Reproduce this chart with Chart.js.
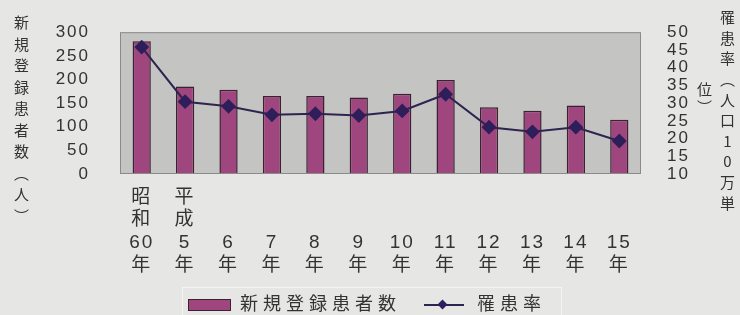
<!DOCTYPE html>
<html>
<head>
<meta charset="utf-8">
<script src="https://cdn.jsdelivr.net/npm/chart.js@4"></script>
<style>
  html, body { margin: 0; padding: 0; background: #e6e6e4; }
  #wrap { position: relative; width: 740px; height: 315px; overflow: hidden; }
  canvas { position: absolute; left: 0; top: 0; }
  .vtitle {
    position: absolute;
    writing-mode: vertical-rl;
    text-orientation: upright;
    font-family: "Noto Sans CJK JP", sans-serif;
    font-size: 15px;
    color: #333;
    line-height: 1;
  }
  #legend {
    position: absolute;
    left: 182px; top: 287px; width: 378px; height: 40px;
    border: 1px solid #f4f4f2;
    font-family: "Noto Sans CJK JP", sans-serif;
    font-size: 18px; color: #333; letter-spacing: 5px;
  }
  #legend .box {
    position: absolute; left: 5px; top: 11px; width: 41px; height: 10px;
    background: #a0467f; border: 1px solid #3b2233;
  }
  #legend .t1 { position: absolute; left: 57px; top: 1px; }
  #legend .ln {
    position: absolute; left: 241px; top: 16px; width: 40px; height: 2px; background: #2d2450;
  }
  #legend .dot {
    position: absolute; left: 256px; top: 13px; width: 7px; height: 7px;
    background: #2e1e5a; transform: rotate(45deg);
  }
  #legend .t2 { position: absolute; left: 294px; top: 1px; }
</style>
</head>
<body>
<div id="wrap">
  <canvas id="chart" width="740" height="315"></canvas>
  <div class="vtitle" style="left:14px; top:15px; letter-spacing:6.5px;">新規登録患者数（人）</div>
  <div class="vtitle" style="left:720px; top:10px; letter-spacing:5.6px;">罹患率（人口10万単</div>
  <div class="vtitle" style="left:697px; top:82px; letter-spacing:3px;">位）</div>
  <div id="legend">
    <div class="box"></div><div class="t1">新規登録患者数</div>
    <div class="ln"></div><div class="dot"></div><div class="t2">罹患率</div>
  </div>
</div>
<script>
// Data
const years = [
    ['昭', '和', '60', '年'],
    ['平', '成', '5', '年'],
    ['', '', '6', '年'],
    ['', '', '7', '年'],
    ['', '', '8', '年'],
    ['', '', '9', '年'],
    ['', '', '10', '年'],
    ['', '', '11', '年'],
    ['', '', '12', '年'],
    ['', '', '13', '年'],
    ['', '', '14', '年'],
    ['', '', '15', '年']
];
const newPatients = [281, 185, 178, 165, 165, 162, 170, 199, 141, 134, 145, 115];
const incidence = [45.8, 30.4, 29.1, 26.7, 27.0, 26.5, 27.8, 32.5, 23.2, 21.9, 23.2, 19.3];
const patientTicks = [0, 50, 100, 150, 200, 250, 300];
const rateTicks = [10, 15, 20, 25, 30, 35, 40, 45, 50];

// Gray plot background + letter spacing for tick text
const plotBg = {
    id: 'plotBg',
    beforeDraw(chart) {
        const { ctx, chartArea: a } = chart;
        ctx.letterSpacing = '2px';
        ctx.save();
        ctx.fillStyle = '#c4c4c2';
        ctx.fillRect(a.left, a.top, a.right - a.left, a.bottom - a.top);
        ctx.restore();
    },
    afterDatasetsDraw(chart) {
        const { ctx, chartArea: a } = chart;
        ctx.save();
        ctx.strokeStyle = '#8a8a8a';
        ctx.lineWidth = 1;
        ctx.strokeRect(a.left + 0.5, a.top + 0.5, a.right - a.left - 1, a.bottom - a.top - 1);
        ctx.restore();
    }
};

const tickFont = { family: '"Liberation Sans", "Noto Sans CJK JP", sans-serif', size: 17 };

new Chart(document.getElementById('chart'), {
    data: {
        labels: years,
        datasets: [
            {
                type: 'line',
                label: '罹患率',
                data: incidence,
                yAxisID: 'yRate',
                borderColor: '#2d2450',
                borderWidth: 2,
                pointStyle: 'rectRot',
                pointRadius: 6,
                pointBackgroundColor: '#2e1e5a',
                pointBorderColor: '#2e1e5a',
                tension: 0,
                order: 0
            },
            {
                type: 'bar',
                label: '新規登録患者数',
                data: newPatients,
                yAxisID: 'y',
                backgroundColor: '#a0467f',
                borderColor: '#3b2233',
                borderWidth: 1.5,
                barPercentage: 0.42,
                categoryPercentage: 1,
                order: 1
            }
        ]
    },
    options: {
        responsive: false,
        animation: false,
        layout: { padding: { top: 17, left: 0, right: 0, bottom: 0 } },
        plugins: {
            legend: { display: false },
            tooltip: { enabled: false }
        },
        scales: {
            x: {
                grid: { display: false },
                border: { display: false },
                ticks: {
                    color: '#333',
                    padding: 4,
                    maxRotation: 0,
                    autoSkip: false,
                    font: { family: '"Liberation Sans", "Noto Sans CJK JP", sans-serif', size: 19, lineHeight: 1.2 }
                },
                afterFit(scale) { scale.height = 141; }
            },
            y: {
                position: 'left',
                min: 0,
                max: 300,
                afterBuildTicks(scale) { scale.ticks = patientTicks.map(v => ({ value: v })); },
                grid: { display: false },
                border: { display: false },
                ticks: { color: '#333', padding: 22, autoSkip: false, font: tickFont },
                afterFit(scale) { scale.width = 120; }
            },
            yRate: {
                position: 'right',
                min: 10,
                max: 50,
                afterBuildTicks(scale) { scale.ticks = rateTicks.map(v => ({ value: v })); },
                grid: { display: false },
                border: { display: false },
                ticks: { color: '#333', padding: 18, autoSkip: false, font: tickFont },
                afterFit(scale) { scale.width = 99; }
            }
        }
    },
    plugins: [plotBg]
});
</script>
</body>
</html>
